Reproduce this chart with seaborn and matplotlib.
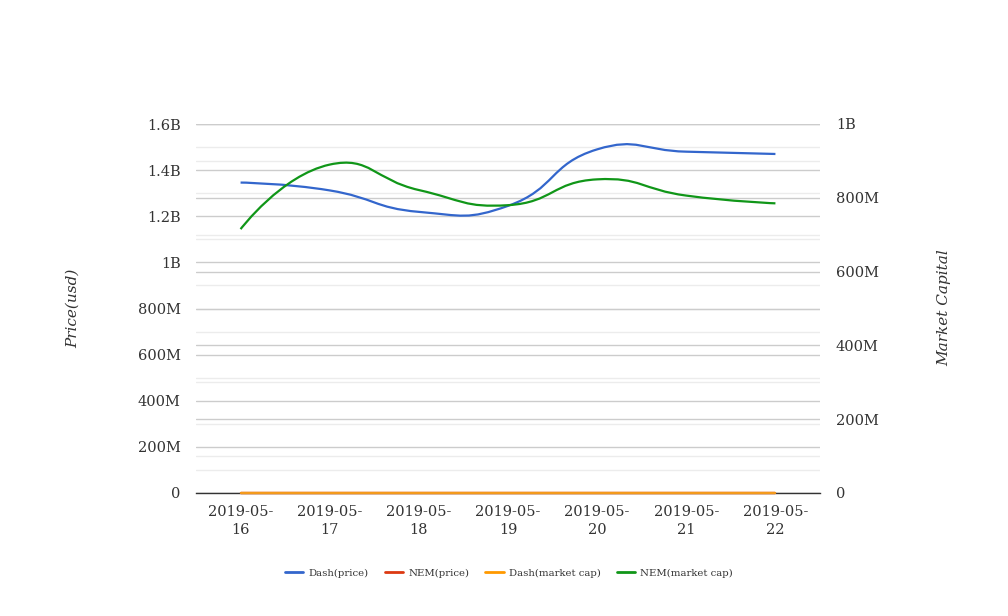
import numpy as np
import pandas as pd
import matplotlib
matplotlib.use("Agg")
import matplotlib.pyplot as plt
import seaborn as sns
from matplotlib.path import Path
from matplotlib.patches import PathPatch
from matplotlib.lines import Line2D
from matplotlib.ticker import MultipleLocator, FuncFormatter

# --- Data ---
dates = ["2019-05-16", "2019-05-17", "2019-05-18", "2019-05-19",
         "2019-05-20", "2019-05-21", "2019-05-22"]
dash_price = [1.346e9, 1.312e9, 1.219e9, 1.245e9, 1.490e9, 1.480e9, 1.470e9]
nem_price = [0.092, 0.097, 0.091, 0.089, 0.094, 0.092, 0.090]
dash_mcap = [152.0, 158.0, 146.0, 149.0, 165.0, 162.0, 160.0]
nem_mcap = [7.15e8, 8.90e8, 8.21e8, 7.80e8, 8.50e8, 8.06e8, 7.85e8]

series_names = ["Dash(price)", "NEM(price)", "Dash(market cap)", "NEM(market cap)"]
colors = ["#3366cc", "#dc3912", "#ff9900", "#109618"]

# --- Style ---
sns.set_theme(style="white")
plt.rcParams["font.family"] = ["DejaVu Serif"]
TEXT = "#333333"


def fmt_big(v, pos=None):
    if v == 0:
        return "0"
    if abs(v) >= 1e9:
        s = f"{v / 1e9:.1f}".rstrip("0").rstrip(".")
        return s + "B"
    return f"{v / 1e6:.0f}M"


def smooth_path(ax_from, xs, ys, smooth=0.5):
    """Bezier path through the points (echarts-like smoothing, in pixel space)."""
    trans = ax_from.transData
    pts = trans.transform(np.column_stack([xs, ys]))
    n = len(pts)
    cps = []
    for i in range(n):
        cur = pts[i]
        if i == 0 or i == n - 1:
            cps.append((cur, cur))
            continue
        prev, nxt = pts[i - 1], pts[i + 1]
        v = (nxt - prev) * smooth
        d0 = np.hypot(*(cur - prev))
        d1 = np.hypot(*(cur - nxt))
        s = d0 + d1
        d0, d1 = d0 / s, d1 / s
        cps.append((cur - v * d0, cur + v * d1))
    verts = [pts[0]]
    codes = [Path.MOVETO]
    for i in range(n - 1):
        verts += [cps[i][1], cps[i + 1][0], pts[i + 1]]
        codes += [Path.CURVE4] * 3
    verts = trans.inverted().transform(np.array(verts))
    return Path(verts, codes)


fig = plt.figure(figsize=(10.08, 6.16), dpi=100)
ax = fig.add_axes([196 / 1008, 1 - 493 / 616, 624 / 1008, 369 / 616])
ax2 = ax.twinx()
ax2.set_zorder(ax.get_zorder() - 1)
ax.patch.set_visible(False)
ax2.patch.set_facecolor("white")

x = np.arange(len(dates))
ax.set_xlim(-0.5, len(dates) - 0.5)
ax.set_ylim(0, 1.6e9)
ax2.set_ylim(0, 1.0e9)

# grids for both scales
for a in (ax, ax2):
    a.yaxis.set_major_locator(MultipleLocator(2e8))
    a.yaxis.set_minor_locator(MultipleLocator(1e8))
    a.yaxis.set_major_formatter(FuncFormatter(fmt_big))
    a.grid(True, which="major", axis="y", color="#cccccc", linewidth=1)
    a.grid(True, which="minor", axis="y", color="#ececec", linewidth=1)
    a.grid(False, axis="x")
    a.tick_params(axis="y", which="both", length=0, labelsize=10.5, labelcolor=TEXT)
    for side in ("top", "left", "right", "bottom"):
        a.spines[side].set_visible(False)
ax.tick_params(axis="y", pad=11)
ax2.tick_params(axis="y", pad=11.5)
ax.spines["bottom"].set_visible(True)
ax.spines["bottom"].set_color("#333333")
ax.spines["bottom"].set_linewidth(1)

ax.set_xticks(x)
ax.set_xticklabels([d[:8] + "\n" + d[8:] for d in dates], linespacing=1.35)
ax.tick_params(axis="x", length=0, pad=9, labelsize=10.5, labelcolor=TEXT)

# --- Lines ---
df_zero = pd.DataFrame({"x": np.concatenate([x, x]),
                        "y": nem_price + dash_mcap,
                        "s": ["NEM(price)"] * len(x) + ["Dash(market cap)"] * len(x)})
sns.lineplot(data=df_zero, x="x", y="y", hue="s",
             palette={"NEM(price)": colors[1], "Dash(market cap)": "#f39a1c"},
             linewidth=1.7, legend=False, ax=ax, zorder=4, clip_on=False)
ax.set_xlabel("")
ax.set_ylabel("")

ax.add_patch(PathPatch(smooth_path(ax, x, dash_price), facecolor="none",
                       edgecolor=colors[0], linewidth=1.6, zorder=5))
green = PathPatch(smooth_path(ax2, x, nem_mcap), facecolor="none",
                  edgecolor=colors[3], linewidth=1.6, zorder=6,
                  transform=ax2.transData)
ax.add_patch(green)

ax.set_ylim(0, 1.6e9)
ax2.set_ylim(0, 1.0e9)

fig.text(73 / 1008, 1 - 308 / 616, "Price(usd)", rotation=90, ha="center",
         va="center", style="italic", fontsize=11, color=TEXT)
fig.text(944 / 1008, 1 - 308 / 616, "Market Capital", rotation=90, ha="center",
         va="center", style="italic", fontsize=11, color=TEXT)

handles = [Line2D([0], [0], color=c, linewidth=2) for c in colors]
fig.legend(handles, series_names, loc="center", ncol=4,
           bbox_to_anchor=(509 / 1008, 1 - 573 / 616), frameon=False,
           fontsize=7.3, handlelength=1.8, handletextpad=0.5, columnspacing=1.6,
           labelcolor=TEXT)

fig.savefig("out.png", dpi=100, facecolor="white")
